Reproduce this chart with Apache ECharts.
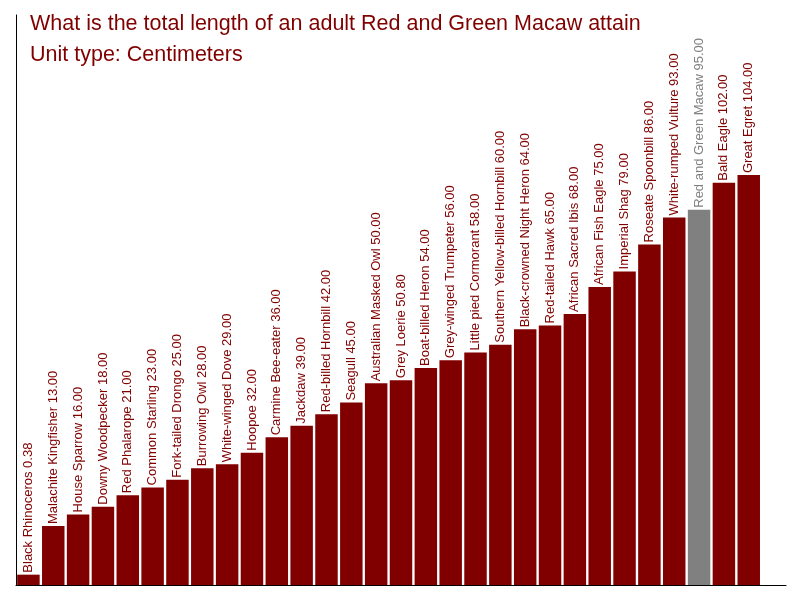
<!doctype html>
<html lang="en">
  <head>
    <meta charset="UTF-8" />
    <title>Macaw length</title>
    <script src="https://cdn.jsdelivr.net/npm/echarts@6/dist/echarts.min.js"></script>
    <style>
      body { margin: 0; padding: 0; background: #fff; }
      .main { width: 800px; height: 600px; }
    </style>
  </head>
  <body>
    <div class="main"></div>
    <script>
      // 鸟类名称和长度（厘米）
      const birds = [
        "Black Rhinoceros", "Malachite Kingfisher", "House Sparrow", "Downy Woodpecker",
        "Red Phalarope", "Common Starling", "Fork-tailed Drongo", "Burrowing Owl",
        "White-winged Dove", "Hoopoe", "Carmine Bee-eater", "Jackdaw",
        "Red-billed Hornbill", "Seagull", "Australian Masked Owl", "Grey Loerie",
        "Boat-billed Heron", "Grey-winged Trumpeter", "Little pied Cormorant",
        "Southern Yellow-billed Hornbill", "Black-crowned Night Heron", "Red-tailed Hawk",
        "African Sacred Ibis", "African Fish Eagle", "Imperial Shag", "Roseate Spoonbill",
        "White-rumped Vulture", "Red and Green Macaw", "Bald Eagle", "Great Egret",
      ];
      const lengths = [
        0.38, 13, 16, 18, 21, 23, 25, 28, 29, 32, 36, 39, 42, 45, 50,
        50.8, 54, 56, 58, 60, 64, 65, 68, 75, 79, 86, 93, 95, 102, 104,
      ];
      const highlight = "Red and Green Macaw";

      const red = "#800000";
      const grey = "#808080";

      const myChart = echarts.init(document.querySelector(".main"), null, { renderer: "canvas" });

      const option = {
        animation: false,
        title: {
          text: "What is the total length of an adult Red and Green Macaw attain\nUnit type: Centimeters",
          left: 30,
          top: 9,
          padding: 0,
          textStyle: {
            color: red,
            fontFamily: "Liberation Sans, Arial, sans-serif",
            fontSize: 21.5,
            fontWeight: "normal",
            lineHeight: 31,
          },
        },
        grid: { left: 16, right: 14, top: 15, bottom: 15 },
        xAxis: {
          type: "category",
          data: birds,
          max: birds.length, // 右侧留一个空位
          axisLine: { show: true, onZero: false, lineStyle: { color: "#000", width: 1 } },
          axisTick: { show: false },
          axisLabel: { show: false },
        },
        yAxis: {
          type: "value",
          min: -2.3,
          max: 145.5,
          startValue: -2.3,
          axisLine: { show: true, onZero: false, lineStyle: { color: "#000", width: 1 } },
          axisTick: { show: false },
          axisLabel: { show: false },
          splitLine: { show: false },
        },
        series: [
          {
            type: "bar",
            barCategoryGap: "9.5%",
            data: lengths.map((v, i) => ({
              value: v,
              itemStyle: { color: birds[i] === highlight ? grey : red },
              label: { color: birds[i] === highlight ? grey : red },
            })),
            label: {
              show: true,
              position: "top",
              distance: 2,
              rotate: 90,
              align: "left",
              verticalAlign: "middle",
              fontFamily: "Liberation Sans, Arial, sans-serif",
              fontSize: 13,
              formatter: (p) => birds[p.dataIndex] + " " + lengths[p.dataIndex].toFixed(2),
            },
          },
        ],
      };

      myChart.setOption(option);
    </script>
  </body>
</html>
